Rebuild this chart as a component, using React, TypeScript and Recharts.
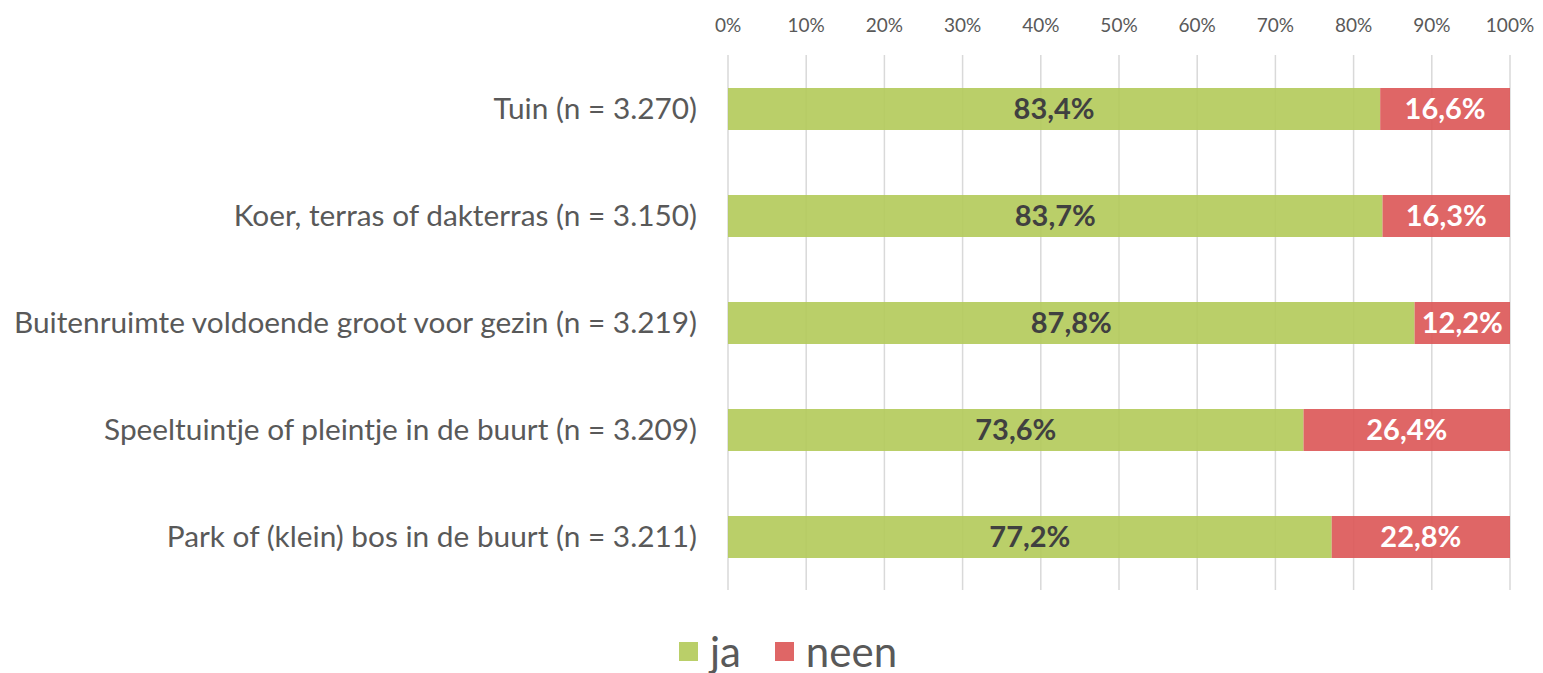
import React from 'react';
import { BarChart, Bar, XAxis, YAxis, CartesianGrid, Legend, LabelList } from 'recharts';

const CATEGORIES = [
  'Tuin (n = 3.270)',
  'Koer, terras of dakterras (n = 3.150)',
  'Buitenruimte voldoende groot voor gezin (n = 3.219)',
  'Speeltuintje of pleintje in de buurt (n = 3.209)',
  'Park of (klein) bos in de buurt (n = 3.211)',
];
const JA = [83.4, 83.7, 87.8, 73.6, 77.2];
const NEEN = [16.6, 16.3, 12.2, 26.4, 22.8];
const TICKS = [0, 10, 20, 30, 40, 50, 60, 70, 80, 90, 100];

const GREEN = '#B3CA59';
const RED = '#DC5555';
const FONT = 'Lato, "Open Sans", sans-serif';

const data = CATEGORIES.map((name, i) => ({ name, ja: JA[i], neen: NEEN[i] }));

const pct = (v: any) => `${Number(v).toFixed(1).replace('.', ',')}%`;

const XTick = (props: any) => {
  const { x, y, payload } = props;
  return (
    <text x={x} y={y} textAnchor="middle" fill="#595959" fontSize={19} fontFamily={FONT}>
      {`${payload.value}%`}
    </text>
  );
};

const YTick = (props: any) => {
  const { x, y, payload } = props;
  return (
    <text x={x} y={y} dy={10} textAnchor="end" fill="#595959" fontSize={29.8} fontFamily={FONT}>
      {payload.value}
    </text>
  );
};

const LegendBox = () => (
  <div style={{ display: 'flex', justifyContent: 'center', alignItems: 'center', fontFamily: FONT, fontSize: 42, color: '#595959', paddingTop: 36, paddingLeft: 66 }}>
    {[
      { label: 'ja', color: GREEN },
      { label: 'neen', color: RED },
    ].map((it) => (
      <div key={it.label} style={{ display: 'flex', alignItems: 'center', margin: '0 17px' }}>
        <span style={{ width: 19, height: 19, background: it.color, opacity: 0.9, display: 'inline-block', marginRight: 12 }} />
        <span>{it.label}</span>
      </div>
    ))}
  </div>
);

export default function App() {
  return (
    <div style={{ position: 'absolute', left: 0, top: 0, background: '#fff' }}>
      <BarChart
        width={1543}
        height={673}
        data={data}
        layout="vertical"
        margin={{ top: 0, right: 33, bottom: 0, left: 0 }}
        barSize={42}
      >
        <CartesianGrid horizontal={false} stroke="#d9d9d9" strokeWidth={1.5} />
        <XAxis
          type="number"
          orientation="top"
          domain={[0, 100]}
          ticks={TICKS}
          interval={0}
          axisLine={false}
          tickLine={false}
          tickSize={0}
          tickMargin={23}
          height={55}
          tick={<XTick />}
        />
        <YAxis
          type="category"
          dataKey="name"
          width={728}
          axisLine={false}
          tickLine={false}
          tickSize={0}
          tickMargin={31}
          tick={<YTick />}
        />
        <Legend verticalAlign="bottom" height={83} content={<LegendBox />} />
        <Bar dataKey="ja" stackId="a" fill={GREEN} fillOpacity={0.9} isAnimationActive={false}>
          <LabelList dataKey="ja" position="center" formatter={pct} fill="#404040" fontSize={29} fontWeight="bold" fontFamily={FONT} />
        </Bar>
        <Bar dataKey="neen" stackId="a" fill={RED} fillOpacity={0.9} isAnimationActive={false}>
          <LabelList dataKey="neen" position="center" formatter={pct} fill="#ffffff" fontSize={29} fontWeight="bold" fontFamily={FONT} />
        </Bar>
      </BarChart>
    </div>
  );
}
